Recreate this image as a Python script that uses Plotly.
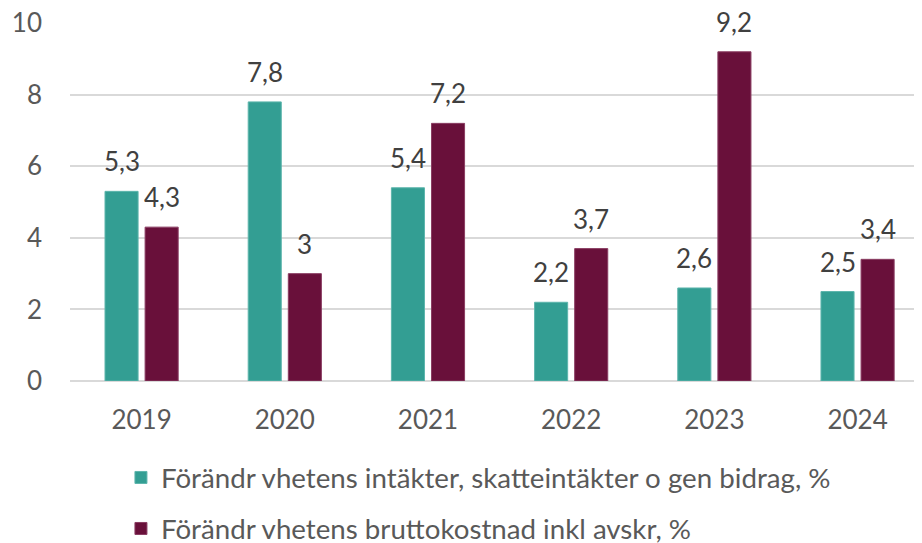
import plotly.graph_objects as go

years = ["2019", "2020", "2021", "2022", "2023", "2024"]
intakter = [5.3, 7.8, 5.4, 2.2, 2.6, 2.5]
kostnad = [4.3, 3.0, 7.2, 3.7, 9.2, 3.4]
y_ticks = [0, 2, 4, 6, 8, 10]
name_a = "Förändr vhetens intäkter, skatteintäkter o gen bidrag, %"
name_b = "Förändr vhetens bruttokostnad inkl avskr, %"

def fmt(v):
    return ("%g" % v).replace(".", ",")

FONT = "Lato, Open Sans, sans-serif"
FS = 26

fig = go.Figure()
fig.add_trace(go.Bar(
    x=years, y=intakter, name=name_a, legendgroup="a",
    marker=dict(color="#339E93", line=dict(color="#5DB5AC", width=1)),
))
fig.add_trace(go.Bar(
    x=years, y=kostnad, name=name_b, legendgroup="b",
    marker=dict(color="#69103A", line=dict(color="#8A3D62", width=1)),
))

# data labels above the bars (category index positions, shifted onto each bar)
for vals, dx in ((intakter, -20), (kostnad, 20)):
    for i, v in enumerate(vals):
        fig.add_annotation(
            x=i, y=v, xref="x", yref="y", text=fmt(v), showarrow=False,
            xshift=dx, yshift=12, yanchor="bottom", xanchor="center",
            font=dict(color="#404040", size=FS, family=FONT),
        )

# page body adds an 8px offset; compensate in figure size/margins
fig.update_layout(
    width=914, height=535,
    margin=dict(l=62, r=0, t=15, b=162, autoexpand=False),
    paper_bgcolor="white", plot_bgcolor="white",
    barmode="group", bargap=0.44, bargroupgap=0.175,
    font=dict(family=FONT, size=FS, color="#595959"),
    showlegend=True,
    legend=dict(
        orientation="v", x=0.0598, xanchor="left", y=-0.201, yanchor="top",
        traceorder="grouped", tracegroupgap=12,
        font=dict(size=27.7, color="#595959", family=FONT),
    ),
)
fig.update_xaxes(
    range=[-0.5, 5.45], showgrid=False, showline=False, ticks="",
    tickfont=dict(size=FS, color="#595959"), ticklabelstandoff=21,
    automargin=False,
)
fig.update_yaxes(
    range=[0, 10.005], tickmode="array", tickvals=y_ticks,
    ticktext=[str(t) for t in y_ticks], ticklabeloverflow="allow",
    showgrid=True, gridcolor="#D9D9D9", gridwidth=1.5,
    zeroline=True, zerolinecolor="#D9D9D9", zerolinewidth=1.5,
    showline=False, ticks="", tickfont=dict(size=FS, color="#595959"),
    ticklabelstandoff=27, automargin=False,
)

fig.write_html("out.html")
